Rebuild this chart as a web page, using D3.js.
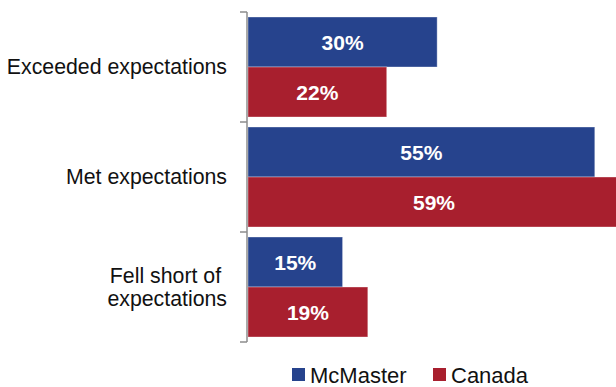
<!DOCTYPE html>
<html>
<head>
<meta charset="utf-8">
<script src="https://cdn.jsdelivr.net/npm/d3@7"></script>
<style>
  html, body { margin: 0; padding: 0; background: #fff; }
  svg { display: block; font-family: "Liberation Sans", Arial, sans-serif; }
  .cat-label tspan { white-space: pre; }
</style>
</head>
<body>
<svg id="chart" width="616" height="387"></svg>
<script>
// Survey responses: how the experience compared with expectations
const categories = ["Exceeded expectations", "Met expectations", "Fell short of expectations"];
const categoryLines = [["Exceeded expectations"], ["Met expectations"], ["Fell short of ", "expectations"]];
const seriesNames = ["McMaster", "Canada"];
const mcmaster = [30, 55, 15];
const canada = [22, 59, 19];
const colors = ["#26438d", "#a81f2e"];

const svg = d3.select("#chart");
const axisX = 247;
const plotTop = 12, plotBottom = 342;

const y = d3.scaleBand().domain(categories).range([plotTop, plotBottom]).paddingInner(0).paddingOuter(0);
const inner = d3.scaleBand().domain(seriesNames).range([5, y.bandwidth() - 5]).padding(0);
const x = d3.scaleLinear().domain([0, 59]).range([axisX + 1, 620]);

const rows = [];
categories.forEach((c, i) => {
  rows.push({ cat: c, series: "McMaster", value: mcmaster[i], color: colors[0] });
  rows.push({ cat: c, series: "Canada", value: canada[i], color: colors[1] });
});

// bars
svg.append("g").selectAll("rect").data(rows).join("rect")
  .attr("x", x(0))
  .attr("y", d => y(d.cat) + inner(d.series))
  .attr("width", d => x(d.value) - x(0))
  .attr("height", inner.bandwidth())
  .attr("fill", d => d.color)
  .attr("stroke", "rgba(255,255,255,0.35)")
  .attr("stroke-width", 1);

// value labels
svg.append("g").selectAll("text").data(rows).join("text")
  .attr("x", d => (x(0) + x(d.value)) / 2)
  .attr("y", d => y(d.cat) + inner(d.series) + inner.bandwidth() / 2)
  .attr("dy", "0.36em")
  .attr("text-anchor", "middle")
  .attr("fill", "#fff")
  .attr("font-weight", "bold")
  .attr("font-size", 21)
  .text(d => d.value + "%");

// category axis with bracket-style ticks at band boundaries
const axis = svg.append("g");
axis.append("line")
  .attr("x1", axisX).attr("x2", axisX)
  .attr("y1", plotTop).attr("y2", plotBottom)
  .attr("stroke", "#8c8c8c").attr("stroke-width", 1.5);
const boundaries = categories.map(c => y(c)).concat([plotBottom]);
axis.selectAll("line.tick").data(boundaries).join("line")
  .attr("class", "tick")
  .attr("x1", axisX - 7).attr("x2", axisX)
  .attr("y1", d => d).attr("y2", d => d)
  .attr("stroke", "#8c8c8c").attr("stroke-width", 1.5);

// category labels
const lineH = 23;
categories.forEach((c, i) => {
  const lines = categoryLines[i];
  const cy = y(c) + y.bandwidth() / 2;
  const t = svg.append("text")
    .attr("class", "cat-label")
    .attr("text-anchor", "end")
    .attr("font-size", 21.3)
    .attr("fill", "#111");
  lines.forEach((ln, j) => {
    t.append("tspan")
      .attr("x", 227)
      .attr("y", cy + (j - (lines.length - 1) / 2) * lineH)
      .attr("dy", "0.35em")
      .text(ln);
  });
});

// legend
const legend = svg.append("g");
const legendItems = [
  { name: seriesNames[0], color: colors[0], x: 292 },
  { name: seriesNames[1], color: colors[1], x: 433 }
];
legendItems.forEach(d => {
  legend.append("rect")
    .attr("x", d.x).attr("y", 368)
    .attr("width", 13).attr("height", 13)
    .attr("fill", d.color);
  legend.append("text")
    .attr("x", d.x + 18).attr("y", 375)
    .attr("dy", "0.36em")
    .attr("font-size", 22)
    .attr("fill", "#111")
    .text(d.name);
});
</script>
</body>
</html>
